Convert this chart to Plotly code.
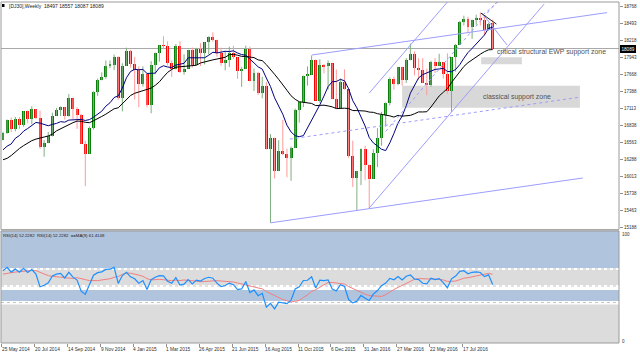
import numpy as np
import pandas as pd
import plotly.graph_objects as go

# ---------------- data (weekly DJ30, week index 0 = 25 May 2014) ----------------
opens = [16606,16717,16924,16776,16947,16851,17068,16944,17100,16961,
         16493,16554,16663,17001,17098,17137,16988,17280,17113,17009,
         16544,16380,16805,17391,17573,17634,17810,17828,17959,17280,
         17804,18053,17833,17737,17511,17673,17165,17825,18019,18140,
         18133,17857,17749,18128,17713,17763,18058,17826,18080,18024,
         18191,18272,18232,18011,17849,17898,18016,17947,17730,17760,
         18086,17568,17690,17373,17477,16460,16643,16102,16433,16385,
         16315,16472,17084,17216,17646,17663,17910,17245,17824,17798,
         17848,17265,17128,17552,17425,16347,15988,16094,16466,16205,
         15974,16392,16640,17007,17213,17602,17516,17793,17577,17898,
         18004,17774,17740,17535,17501,17873,17807,17865,17675,17401,
         17949,18147,18516,18571,18432,18544,18577,18553,18395,18497]
highs = [16736,16936,16970,16979,16978,17074,17084,17151,17107,17083,
         16603,16737,17048,17123,17151,17138,17350,17280,17137,17026,
         16590,16825,17395,17601,17701,17895,17894,17991,17961,17849,
         18103,18069,17951,17800,17800,17673,17885,18024,18141,18288,
         18207,17896,18161,18206,17995,18070,18105,18100,18175,18193,
         18289,18351,18232,18103,18051,18120,18134,17947,17790,18137,
         18120,17765,17712,17630,17548,16700,16643,16600,16933,16465,
         16500,17115,17216,17650,17800,17978,17910,17914,17838,17896,
         17848,17750,17604,17750,17425,16593,16100,16466,16510,16205,
         16453,16795,17062,17213,17620,17636,17793,17793,17933,18168,
         18041,17930,17934,17762,17892,17932,18003,17865,18011,17949,
         18165,18537,18622,18605,18557,18638,18668,18601,18506,18557]
lows = [16600,16704,16735,16744,16787,16820,16877,16860,16944,16463,
        16333,16553,16662,16998,16992,16936,16984,16945,16785,16541,
        15855,16380,16776,17322,17573,17598,17769,17739,17257,17069,
        17804,17781,17262,17136,17472,17136,17038,17670,17874,18086,
        17815,17629,17749,17694,17664,17763,17780,17826,17806,17830,
        17995,18199,17955,17812,17736,17791,17919,17596,17465,17760,
        17555,17399,17334,17282,16450,15260,15980,16102,16358,16000,
        15942,16472,16886,17139,17486,17663,17245,17210,17686,17422,
        17265,17128,17128,17421,16314,15842,15450,15872,15952,15501,
        15974,16165,16511,16821,17168,17421,17494,17484,17532,17896,
        17652,17585,17531,17331,17469,17690,17807,17602,17356,17063,
        17713,18147,18464,18344,18247,18473,18464,18311,18380,18087]
closes = [16717,16924,16776,16947,16851,17068,16944,17100,16961,16493,
          16554,16663,17001,17098,17137,16988,17280,17113,17009,16544,
          16380,16805,17391,17573,17634,17810,17828,17959,17280,17804,
          18053,17833,17737,17511,17673,17165,17825,18019,18140,18133,
          17857,17749,18128,17713,17763,18058,17826,18080,18024,18191,
          18272,18232,18011,17849,17898,18016,17947,17730,17760,18086,
          17568,17690,17373,17477,16460,16643,16102,16433,16385,16315,
          16472,17084,17216,17646,17663,17910,17245,17824,17798,17848,
          17265,17128,17552,17425,16347,15988,16094,16466,16205,15974,
          16392,16640,17007,17213,17602,17516,17793,17577,17898,18004,
          17774,17740,17535,17501,17873,17807,17865,17675,17401,17949,
          18147,18516,18571,18432,18544,18577,18553,18395,18492,18089]
# closes before the visible range (indicator warm-up)
prior_closes = [15072,15237,15399,15570,15615,15761,15962,16065,16086,16020,
                15755,16221,16479,16469,16437,16458,15879,15699,15794,16154,
                16104,16322,16453,16066,16303,16323,16413,16027,16409,16361,
                16513,16583,16491,16606]

weeks = list(range(len(closes)))
price_ticks = [18768,18493,18218,17943,17668,17388,17113,16838,16563,16288,16013,15738,15463,15188]
date_tick_idx = [0,8,16,24,32,40,48,56,64,72,80,88,96,104,112]
date_tick_labels = ["25 May 2014","20 Jul 2014","14 Sep 2014","9 Nov 2014","4 Jan 2015",
                    "1 Mar 2015","26 Apr 2015","21 Jun 2015","16 Aug 2015","11 Oct 2015",
                    "6 Dec 2015","31 Jan 2016","27 Mar 2016","22 May 2016","17 Jul 2016"]
last_price = 18089
title_text = "[DJ30],Weekly\u00a0\u00a018497 18557 18087 18089"
rsi_text = "RSI(14) 52.2282\u00a0\u00a0RSI(14) 52.2282\u00a0\u00a0==MA(9) 61.4148"

# drawn objects (week index, price)
chan_lower = [(65, 15260), (140.9, 15988)]
chan_upper = [(75.1, 17984), (146.8, 18672)]
chan_mid = [(69.7, 16619), (140.2, 17300)]
steep_a = [(89, 15501), (131.5, 18810)]
steep_b = [(89, 17366), (108, 18844)]
steep_mid = [(93, 16745), (120, 18844)]
wedge_black = [(116.1, 18666), (119.9, 18487)]
wedge_solid = [(116.4, 18666), (122.5, 18146)]
wedge_dot = [(116.6, 18633), (120.3, 18844)]
zone_critical = (116.2, 126.1, 17833, 17947)
zone_classical = (97.0, 140.2, 17129, 17486)
label_critical = (120.05, 18033, "critical structural EWP support zone")
label_classical = (116.6, 17298, "classical support zone")
rsi_bands = [(67.0, 100, "#B0C4DE"), (51.8, 65.2, "#DCDCDC"), (37.5, 47.3, "#B0C4DE"), (0, 34.4, "#DCDCDC")]
rsi_dots = [66.1, 50.9, 36.2]

# ---------------- indicators ----------------
all_c = np.array(prior_closes + closes, dtype=float)
n0 = len(prior_closes)
s = pd.Series(all_c)
sma10 = s.rolling(10).mean().values[n0:]
sma20 = s.rolling(20).mean().values[n0:]

def rsi_wilder(c, n=14):
    d = np.diff(c)
    g = np.where(d > 0, d, 0.0)
    l = np.where(d < 0, -d, 0.0)
    out = np.full(len(c), np.nan)
    ag = g[:n].mean(); al = l[:n].mean()
    out[n] = 100 - 100 / (1 + ag / al) if al > 0 else 100
    for i in range(n + 1, len(c)):
        ag = (ag * (n - 1) + g[i - 1]) / n
        al = (al * (n - 1) + l[i - 1]) / n
        out[i] = 100 - 100 / (1 + ag / al) if al > 0 else 100
    return out

rsi_all = rsi_wilder(all_c)
rsi_ma_all = pd.Series(rsi_all).rolling(9).mean().values
rsi = rsi_all[n0:]
rsi_ma = rsi_ma_all[n0:]

# ---------------- layout geometry (pixels) ----------------
W, H = 640, 355
PL, PR, PT, PB = 1, 619, 2, 343
def px(x):
    return (x - PL) / (PR - PL)
def py(y):
    return (PB - y) / (PB - PT)

FONT = "Liberation Sans, Arial, sans-serif"
fig = go.Figure()

# wicks
gx, gy, rx, ry = [], [], [], []
for i in weeks:
    if closes[i] >= opens[i]:
        gx += [i, i, None]; gy += [lows[i], highs[i], None]
    else:
        rx += [i, i, None]; ry += [lows[i], highs[i], None]
fig.add_trace(go.Scatter(x=gx, y=gy, mode="lines", line=dict(color="#7FAF7F", width=1),
                         hoverinfo="skip", showlegend=False, xaxis="x", yaxis="y"))
fig.add_trace(go.Scatter(x=rx, y=ry, mode="lines", line=dict(color="#FF9A9A", width=1),
                         hoverinfo="skip", showlegend=False, xaxis="x", yaxis="y"))
# bodies
base = [min(o, c) for o, c in zip(opens, closes)]
body = [max(abs(c - o), 12) for o, c in zip(opens, closes)]
cols = ["#0A800A" if c >= o else "#FF0000" for o, c in zip(opens, closes)]
fig.add_trace(go.Bar(x=weeks, y=body, base=base, width=0.72, marker=dict(color=cols, line=dict(width=0)),
                     hoverinfo="skip", showlegend=False, xaxis="x", yaxis="y"))
# moving averages
fig.add_trace(go.Scatter(x=weeks, y=sma20, mode="lines", line=dict(color="#000000", width=1),
                         hoverinfo="skip", showlegend=False, xaxis="x", yaxis="y"))
fig.add_trace(go.Scatter(x=weeks, y=sma10, mode="lines", line=dict(color="#00007F", width=1),
                         hoverinfo="skip", showlegend=False, xaxis="x", yaxis="y"))
# RSI
fig.add_trace(go.Scatter(x=weeks, y=rsi_ma, mode="lines", line=dict(color="#F08080", width=1),
                         hoverinfo="skip", showlegend=False, xaxis="x", yaxis="y2"))
fig.add_trace(go.Scatter(x=weeks, y=rsi, mode="lines", line=dict(color="#1E8FFF", width=1.2),
                         hoverinfo="skip", showlegend=False, xaxis="x", yaxis="y2"))

shapes = []
# RSI bands
for lo, hi, col in rsi_bands:
    shapes.append(dict(type="rect", xref="x domain", yref="y2", x0=0, x1=1, y0=lo, y1=hi,
                       fillcolor=col, line=dict(width=0), layer="below"))
for v in rsi_dots:
    shapes.append(dict(type="line", xref="x domain", yref="y2", x0=0, x1=1, y0=v, y1=v,
                       line=dict(color="#C4C4C4", width=1, dash="dot"), layer="below"))
# zones
for (x0, x1, y0, y1) in [zone_critical, zone_classical]:
    shapes.append(dict(type="rect", xref="x", yref="y", x0=x0, x1=x1, y0=y0, y1=y1,
                       fillcolor="#D8D8D8", line=dict(width=0), layer="below"))
# bid line
shapes.append(dict(type="line", xref="x domain", yref="y", x0=0, x1=1, y0=last_price, y1=last_price,
                   line=dict(color="#A8A8A8", width=1), layer="below"))
# trend lines
def seg(pts, color="#9C9CFF", dash="solid"):
    (a, b), (c, d) = pts
    return dict(type="line", xref="x", yref="y", x0=a, y0=b, x1=c, y1=d,
                line=dict(color=color, width=1, dash=dash), layer="above")
for p in [chan_lower, chan_upper, steep_a, steep_b, wedge_solid]:
    shapes.append(seg(p))
for p in [chan_mid, steep_mid, wedge_dot]:
    shapes.append(seg(p, dash="dot"))
shapes.append(seg(wedge_black, color="#202020"))
# frames
main_bot = py(229.5)
rsi_top = py(231)
shapes.append(dict(type="rect", xref="paper", yref="paper", x0=0, x1=1, y0=main_bot, y1=1,
                   line=dict(color="#9A9A9A", width=1), layer="above"))
shapes.append(dict(type="rect", xref="paper", yref="paper", x0=0, x1=1, y0=0, y1=rsi_top,
                   line=dict(color="#9A9A9A", width=1), layer="above"))
shapes.append(dict(type="rect", xref="paper", yref="paper", x0=0, x1=1, y0=rsi_top, y1=main_bot,
                   fillcolor="#B4B4B4", line=dict(width=0), layer="above"))
# title icon
shapes.append(dict(type="rect", xref="paper", yref="paper", x0=px(2), x1=px(4.5), y0=py(7), y1=py(4),
                   fillcolor="#000000", line=dict(width=0), layer="above"))

ann = []
ann.append(dict(xref="paper", yref="paper", x=px(8.5), y=py(6), text=title_text, showarrow=False,
                xanchor="left", yanchor="middle", font=dict(family=FONT, size=5, color="#202020"),
                borderpad=0, borderwidth=0))
ann.append(dict(xref="paper", yref="paper", x=px(3), y=py(235), text=rsi_text, showarrow=False,
                xanchor="left", yanchor="middle", font=dict(family=FONT, size=4.3, color="#202020"),
                borderpad=0, borderwidth=0))
for (xx, yy, t) in [label_critical, label_classical]:
    ann.append(dict(xref="x", yref="y", x=xx, y=yy, text=t, showarrow=False, xanchor="left",
                    yanchor="middle", font=dict(family=FONT, size=6.9, color="#505050"),
                    borderpad=0, borderwidth=0))
ann.append(dict(xref="paper", yref="y", x=px(620), y=last_price, text=str(last_price), showarrow=False,
                xanchor="left", yanchor="middle", bgcolor="#000000", borderpad=1.5, borderwidth=0,
                font=dict(family=FONT, size=4.6, color="#FFFFFF")))
ann.append(dict(xref="paper", yref="paper", x=px(622), y=py(234), text="100", showarrow=False,
                xanchor="left", yanchor="middle", font=dict(family=FONT, size=4.5, color="#303030"),
                borderpad=0, borderwidth=0))
ann.append(dict(xref="paper", yref="paper", x=px(622), y=py(341), text="0", showarrow=False,
                xanchor="left", yanchor="middle", font=dict(family=FONT, size=4.5, color="#303030"),
                borderpad=0, borderwidth=0))
for i, t in zip(date_tick_idx, date_tick_labels):
    ann.append(dict(xref="x", yref="paper", x=i - 0.3, y=py(349), text=t, showarrow=False,
                    xanchor="left", yanchor="middle", font=dict(family=FONT, size=4.8, color="#303030"),
                    borderpad=0, borderwidth=0))

fig.update_layout(
    width=W, height=H,
    margin=dict(l=PL, r=W - PR, t=PT, b=H - PB, autoexpand=False),
    paper_bgcolor="#FFFFFF", plot_bgcolor="#FFFFFF",
    showlegend=False, hovermode=False, bargap=0,
    shapes=shapes, annotations=ann,
    xaxis=dict(range=[-0.486, 149.7], anchor="y2", showgrid=False, zeroline=False, showline=False,
               tickmode="array", tickvals=[i - 0.3 for i in date_tick_idx], ticks="outside", ticklen=3,
               tickcolor="#909090", showticklabels=False, fixedrange=True),
    yaxis=dict(domain=[main_bot, 1], range=[15152, 18844], side="right", anchor="x",
               tickmode="array", tickvals=price_ticks, ticktext=[str(v) for v in price_ticks],
               ticks="outside", ticklen=3, tickcolor="#909090", showgrid=False, zeroline=False,
               showline=False, tickfont=dict(family=FONT, size=4.5, color="#303030"), fixedrange=True),
    yaxis2=dict(domain=[0, rsi_top], range=[0, 100], side="right", anchor="x", showticklabels=False,
                ticks="", showgrid=False, zeroline=False, showline=False, fixedrange=True),
)

fig.write_html("out.html", config={"displayModeBar": False})
